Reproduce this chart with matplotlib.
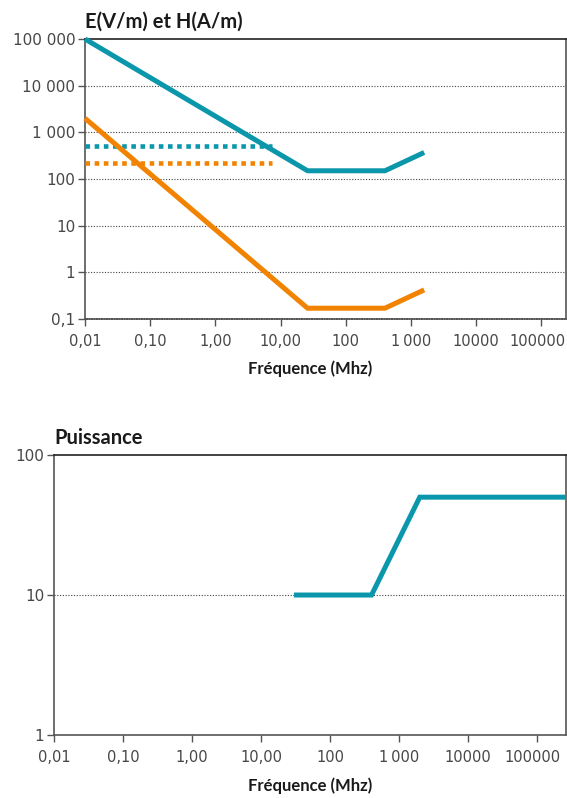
import matplotlib
matplotlib.use('Agg')
import matplotlib.pyplot as plt
from matplotlib.ticker import FixedLocator, NullLocator
from matplotlib.transforms import ScaledTranslation

plt.rcParams['font.family'] = ['Lato', 'DejaVu Sans']

# --- data ---
# champ electrique E (V/m)
e_freq = [0.01, 26, 400, 1600]
e_val = [100000, 150, 150, 370]
# champ magnetique H (A/m)
h_freq = [0.01, 26, 400, 1600]
h_val = [2000, 0.17, 0.17, 0.42]
# niveaux en pointilles
e_dot_freq = [0.01, 7.3]
e_dot_val = [510, 510]
h_dot_freq = [0.01, 7.3]
h_dot_val = [215, 215]
# puissance
p_freq = [30, 400, 2000, 300000]
p_val = [10, 10, 50, 50]

x_ticks = [0.01, 0.1, 1, 10, 100, 1000, 10000, 100000]
x_labels = ['0,01', '0,10', '1,00', '10,00', '100', '1\u2009000', '10000', '100000']
y_ticks_top = [0.1, 1, 10, 100, 1000, 10000, 100000]
y_labels_top = ['0,1', '1', '10', '100', '1 000', '10 000', '100 000']
y_ticks_bot = [1, 10, 100]
y_labels_bot = ['1', '10', '100']

teal = '#0A97AB'
orange = '#F28300'
axis_col = '#555555'
txt_col = '#474747'

fig = plt.figure(figsize=(5.67, 7.98), dpi=100)
ax1 = fig.add_axes([0.1499, 0.6003, 0.8483, 0.3508])
ax2 = fig.add_axes([0.0952, 0.0789, 0.9030, 0.3509])


def style(ax, yticks, ylabels, xmax, grid_vals):
    ax.set_xscale('log')
    ax.set_yscale('log')
    ax.set_xlim(0.01, xmax)
    ax.set_ylim(yticks[0], yticks[-1])
    ax.xaxis.set_major_locator(FixedLocator(x_ticks))
    ax.xaxis.set_minor_locator(NullLocator())
    ax.set_xticklabels(x_labels, family='DejaVu Sans', fontsize=10.5)
    ax.yaxis.set_major_locator(FixedLocator(yticks))
    ax.yaxis.set_minor_locator(NullLocator())
    ax.set_yticklabels(ylabels, family='DejaVu Sans', fontsize=11)
    for v in grid_vals:
        ax.axhline(v, color='#444444', lw=0.8, ls=(0, (1, 1.5)), zorder=1)
    for s in ['left', 'right', 'bottom']:
        ax.spines[s].set_color(axis_col)
        ax.spines[s].set_linewidth(1.2)
    ax.spines['top'].set_color('#222222')
    ax.spines['top'].set_linewidth(1.2)
    ax.tick_params(axis='both', direction='out', length=5, width=1,
                   color=axis_col, labelcolor=txt_col)
    ax.tick_params(axis='y', pad=2)
    ax.tick_params(axis='x', pad=6)
    last = ax.get_xticklabels()[-1]
    last.set_transform(last.get_transform()
                       + ScaledTranslation(-3 / 72, 0, fig.dpi_scale_trans))


style(ax1, y_ticks_top, y_labels_top, 10 ** 5.38, [1, 10, 100, 1000, 10000])
ax1.spines['bottom'].set_linestyle((0, (1, 0.5)))
ax1.plot(e_dot_freq, e_dot_val, color=teal, lw=3.3, ls=(0, (1, 1)),
         dash_capstyle='butt', zorder=3)
ax1.plot(h_dot_freq, h_dot_val, color=orange, lw=3.3, ls=(0, (1, 1)),
         dash_capstyle='butt', zorder=3)
ax1.plot(e_freq, e_val, color=teal, lw=3.6, solid_joinstyle='miter',
         solid_capstyle='butt', zorder=4, clip_on=False)
ax1.plot(h_freq, h_val, color=orange, lw=3.6, solid_joinstyle='miter',
         solid_capstyle='butt', zorder=4, clip_on=False)

style(ax2, y_ticks_bot, y_labels_bot, 10 ** 5.42, [10])
ax2.plot(p_freq, p_val, color=teal, lw=3.6, solid_joinstyle='miter',
         solid_capstyle='butt', zorder=4)

fig.text(85 / 567, 1 - 22 / 798, 'E(V/m) et H(A/m)', fontsize=14.5,
         fontweight='bold', color='#1a1a1a', ha='left', va='center')
fig.text(54 / 567, 1 - 438 / 798, 'Puissance', fontsize=14.5,
         fontweight='bold', color='#1a1a1a', ha='left', va='center')
fig.text(310 / 567, 1 - 369 / 798, 'Fréquence (Mhz)', fontsize=12,
         fontweight='bold', color='#1a1a1a', ha='center', va='center')
fig.text(310 / 567, 1 - 786 / 798, 'Fréquence (Mhz)', fontsize=12,
         fontweight='bold', color='#1a1a1a', ha='center', va='center')

fig.savefig('out.png', dpi=100)
